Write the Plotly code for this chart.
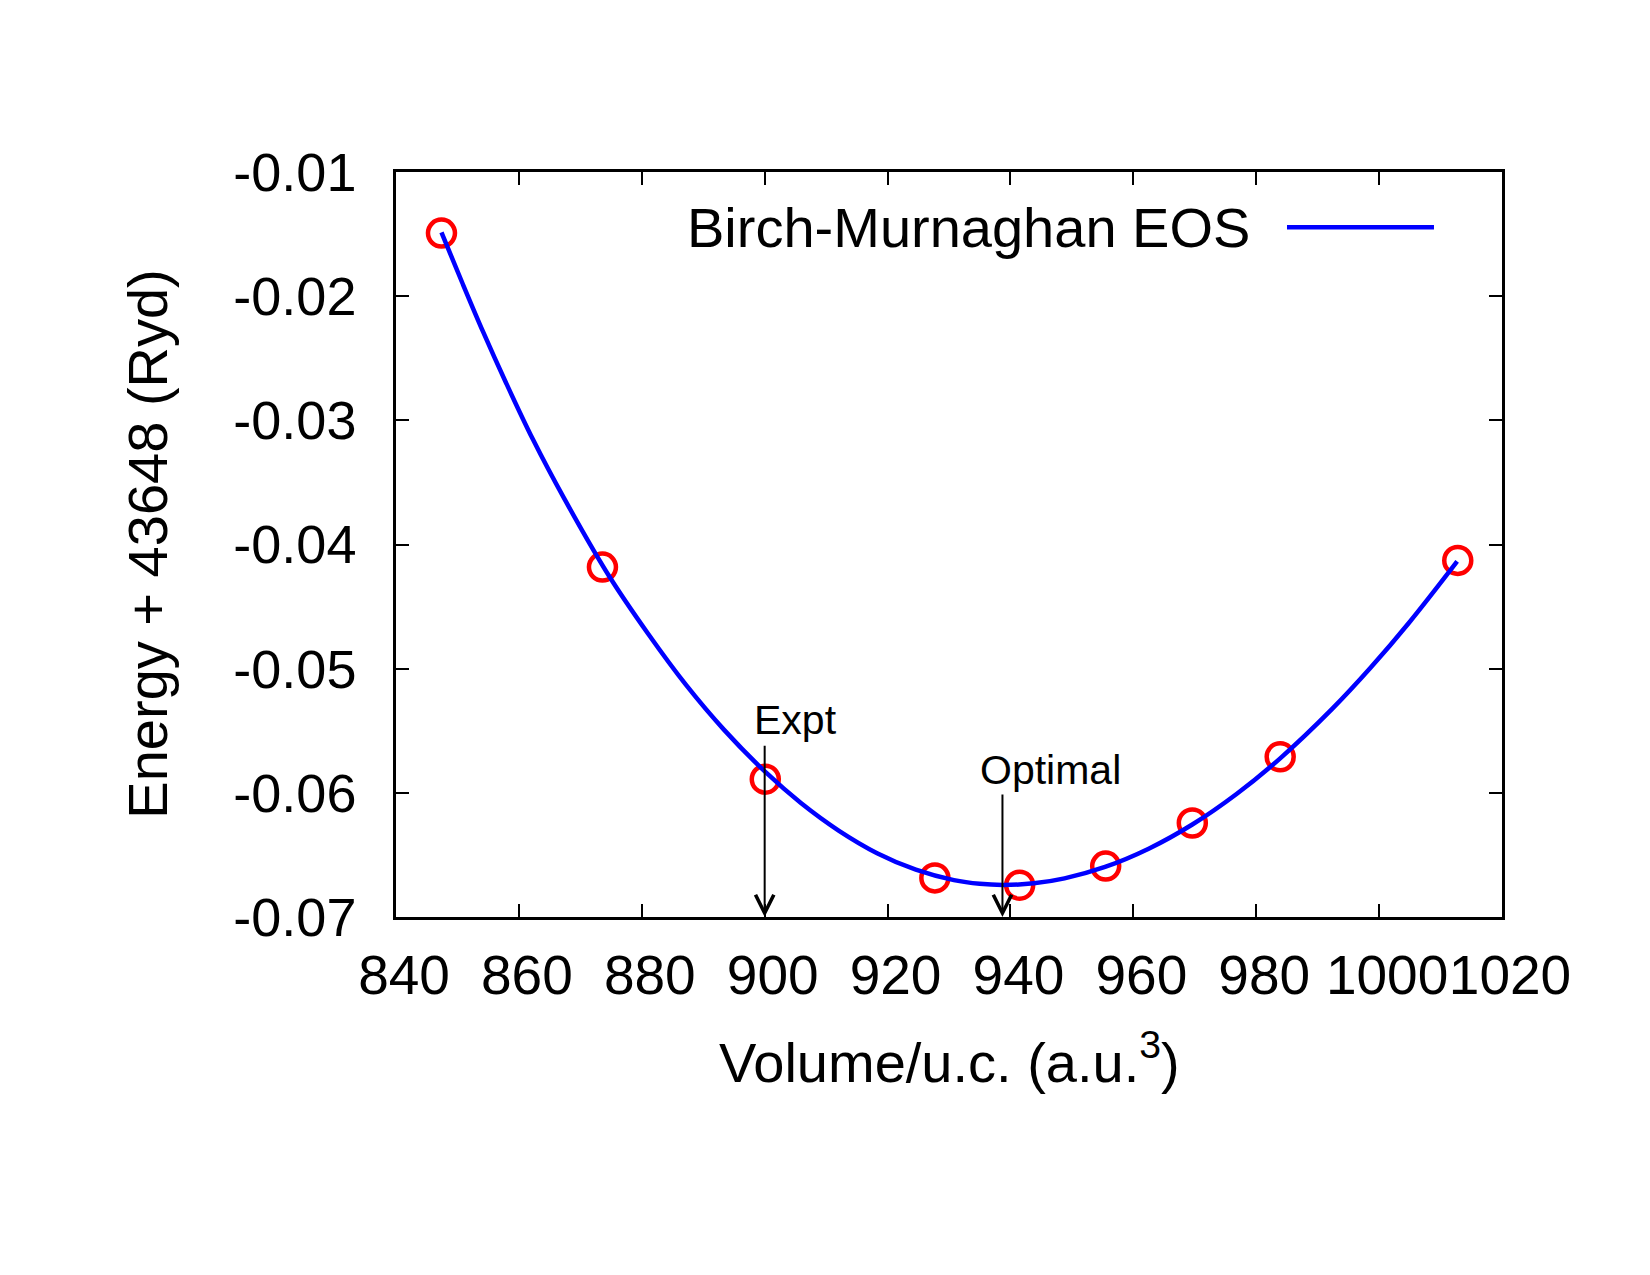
import plotly.graph_objects as go

# Calculated data points (volume per unit cell, energy + 43648 Ryd)
volume = [847.4, 873.6, 900.1, 927.7, 941.5, 955.5, 969.6, 983.9, 1012.8]
energy = [-0.01492, -0.04182, -0.0589, -0.06685, -0.06744, -0.0659, -0.06243, -0.0571, -0.04128]

# Birch-Murnaghan EOS curve
fit_volume = [847.4, 850.8, 854.2, 857.9, 862.3, 867.3, 874.7, 881.0, 887.2, 893.4,
              900.2, 905.9, 912.1, 918.3, 924.6, 930.8, 935.0, 938.8, 943.8, 948.8, 955.4,
              962.5, 969.6, 976.8, 983.9, 992.4, 998.6, 1004.9, 1012.7]
fit_energy = [-0.01487, -0.01894, -0.02290, -0.02697, -0.03155, -0.03623, -0.04256, -0.04717,
              -0.05131, -0.05493, -0.05836, -0.06082, -0.06306, -0.06486, -0.06619, -0.06703,
              -0.06733, -0.06742, -0.06729, -0.06689, -0.06597, -0.06450, -0.06255, -0.06009,
              -0.05722, -0.05322, -0.04993, -0.04628, -0.04136]

x_ticks = [840, 860, 880, 900, 920, 940, 960, 980, 1000, 1020]
y_ticks = [-0.07, -0.06, -0.05, -0.04, -0.03, -0.02, -0.01]
y_ticktext = ["-0.07", "-0.06", "-0.05", "-0.04", "-0.03", "-0.02", "-0.01"]

expt_volume = 900.0
optimal_volume = 938.7

FONT = "Liberation Sans, Arial, Helvetica, sans-serif"

fig = go.Figure()
fig.add_trace(go.Scatter(
    x=volume, y=energy, mode="markers",
    marker=dict(symbol="circle-open", size=27, color="#ff0000",
                line=dict(width=4.5, color="#ff0000")),
    showlegend=False))
fig.add_trace(go.Scatter(
    x=fit_volume, y=fit_energy, mode="lines",
    line=dict(color="#0000ff", width=4.5, shape="spline", smoothing=1.0),
    name="Birch-Murnaghan EOS", showlegend=False))

axis_common = dict(showgrid=False, zeroline=False, ticks="inside", ticklen=13, tickwidth=2,
                   tickcolor="black", showline=True, linewidth=2.5, linecolor="black",
                   mirror="ticks")

fig.update_xaxes(range=[840, 1020], tickvals=x_ticks, ticklabelstandoff=8, ticklabelshift=8,
                 tickangle=0, tickfont=dict(family=FONT, size=55, color="black"),
                 **axis_common)
fig.update_yaxes(range=[-0.07, -0.01], tickvals=y_ticks, ticktext=y_ticktext,
                 ticklabelstandoff=26, tickfont=dict(family=FONT, size=54, color="black"),
                 **axis_common)

annotations = [
    dict(text="Energy + 43648 (Ryd)", xref="paper", yref="paper", x=-0.225, y=0.5,
         textangle=-90, showarrow=False, xanchor="center", yanchor="middle",
         font=dict(family=FONT, size=56, color="black")),
    dict(text="Volume/u.c. (a.u.<sup>3</sup>)", xref="paper", yref="paper", x=0.5, y=-0.19,
         showarrow=False, xanchor="center", yanchor="middle",
         font=dict(family=FONT, size=56, color="black")),
    dict(text="Birch-Murnaghan EOS", xref="paper", yref="paper", x=0.774, y=0.926,
         showarrow=False, xanchor="right", yanchor="middle",
         font=dict(family=FONT, size=56, color="black")),
    dict(text="Expt", xref="x", yref="y", x=897.9, y=-0.0541, showarrow=False,
         xanchor="left", yanchor="middle", font=dict(family=FONT, size=41, color="black")),
    dict(text="Optimal", xref="x", yref="y", x=934.7, y=-0.0582, showarrow=False,
         xanchor="left", yanchor="middle", font=dict(family=FONT, size=41, color="black")),
    dict(text="", xref="x", yref="y", x=expt_volume, y=-0.07, axref="x", ayref="y",
         ax=expt_volume, ay=-0.05608, showarrow=True, arrowhead=5, arrowsize=1.8,
         arrowwidth=2, arrowcolor="black", standoff=0, startstandoff=0),
    dict(text="", xref="x", yref="y", x=optimal_volume, y=-0.07, axref="x", ayref="y",
         ax=optimal_volume, ay=-0.06002, showarrow=True, arrowhead=5, arrowsize=1.8,
         arrowwidth=2, arrowcolor="black", standoff=0, startstandoff=0),
]

fig.update_layout(
    width=1650, height=1275,
    margin=dict(l=396, r=148, t=172, b=358),
    paper_bgcolor="white", plot_bgcolor="white",
    annotations=annotations,
    shapes=[dict(type="line", xref="paper", yref="paper", x0=0.8056, x1=0.9385,
                 y0=0.926, y1=0.926, line=dict(color="#0000ff", width=4.5))],
    showlegend=False,
)

fig.write_html("out.html")
